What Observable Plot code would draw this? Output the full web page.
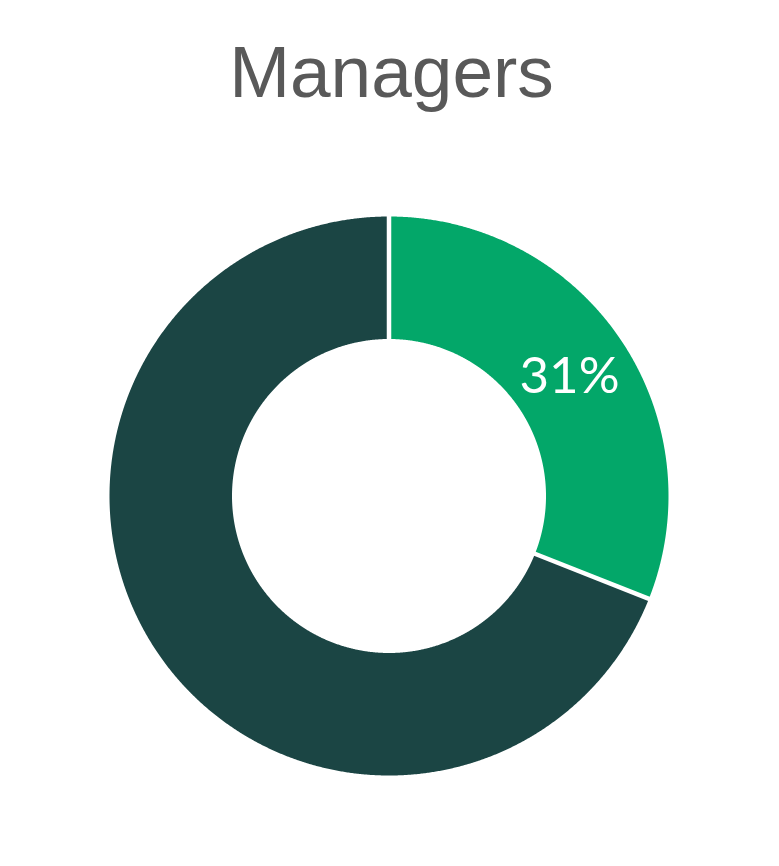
<!DOCTYPE html>
<html>
<head>
<meta charset="utf-8">
<script src="https://cdn.jsdelivr.net/npm/d3@7"></script>
<script src="https://cdn.jsdelivr.net/npm/@observablehq/plot@0.6"></script>
<style>
  html, body { margin: 0; padding: 0; background: #ffffff; }
  #title {
    height: 130px; box-sizing: border-box; padding-top: 35px;
    font-family: "Liberation Sans", Arial, sans-serif; font-size: 73px; line-height: 73px;
    color: #595959; text-align: center; padding-left: 4px;
  }
  #chart svg { display: block; }
</style>
</head>
<body>
<div id="title">Managers</div>
<div id="chart"></div>
<script>
// ---- data ----
const categories = ["Share", "Remainder"];
const values = [31, 69];
const labels = ["31%", ""];
const colors = ["#03A769", "#1B4544"];

// ---- layout constants ----
const W = 779, H = 736;
const cx = 388.5, cy = 365.5;   // donut centre in svg pixels
const Rpx = 279.5;              // outer radius in pixels
const inner = 157 / Rpx;        // inner radius relative to outer (=1)

const pie = d3.pie().sort(null).value(d => d.value)(
  categories.map((c, i) => ({category: c, value: values[i], label: labels[i]}))
);

// polygon outline of each annular slice (angles clockwise from 12 o'clock)
const pts = [];
for (const s of pie) {
  const a0 = s.startAngle, a1 = s.endAngle;
  const n = Math.max(2, Math.ceil((a1 - a0) / (Math.PI / 720)));
  const ring = [];
  for (let i = 0; i <= n; i++) { const a = a0 + (a1 - a0) * i / n; ring.push([Math.sin(a), Math.cos(a)]); }
  for (let i = n; i >= 0; i--) { const a = a0 + (a1 - a0) * i / n; ring.push([inner * Math.sin(a), inner * Math.cos(a)]); }
  ring.push(ring[0]);
  for (const [x, y] of ring) pts.push({category: s.data.category, x, y});
}

const seps = pie.map(s => ({
  x1: (inner - 0.02) * Math.sin(s.startAngle), y1: (inner - 0.02) * Math.cos(s.startAngle),
  x2: 1.02 * Math.sin(s.startAngle), y2: 1.02 * Math.cos(s.startAngle)
}));

const labs = pie.filter(s => s.data.label).map(s => {
  const a = (s.startAngle + s.endAngle) / 2, r = (1 + inner) / 2;
  return {x: r * Math.sin(a), y: r * Math.cos(a), text: s.data.label};
});

const chart = Plot.plot({
  width: W, height: H,
  margin: 0,
  x: {domain: [-cx / Rpx, (W - cx) / Rpx], axis: null},
  y: {domain: [-(H - cy) / Rpx, cy / Rpx], axis: null},
  color: {domain: categories, range: colors},
  marks: [
    Plot.line(pts, {x: "x", y: "y", z: "category", fill: "category", stroke: "none", curve: "linear"}),
    Plot.link(seps, {x1: "x1", y1: "y1", x2: "x2", y2: "y2", stroke: "#ffffff", strokeWidth: 4.5}),
    Plot.text(labs, {x: "x", y: "y", text: "text", fill: "#ffffff", fontSize: 51,
      fontFamily: "Lato, 'Open Sans', sans-serif", textAnchor: "middle", dy: 3})
  ]
});
document.getElementById("chart").appendChild(chart);
</script>
</body>
</html>
